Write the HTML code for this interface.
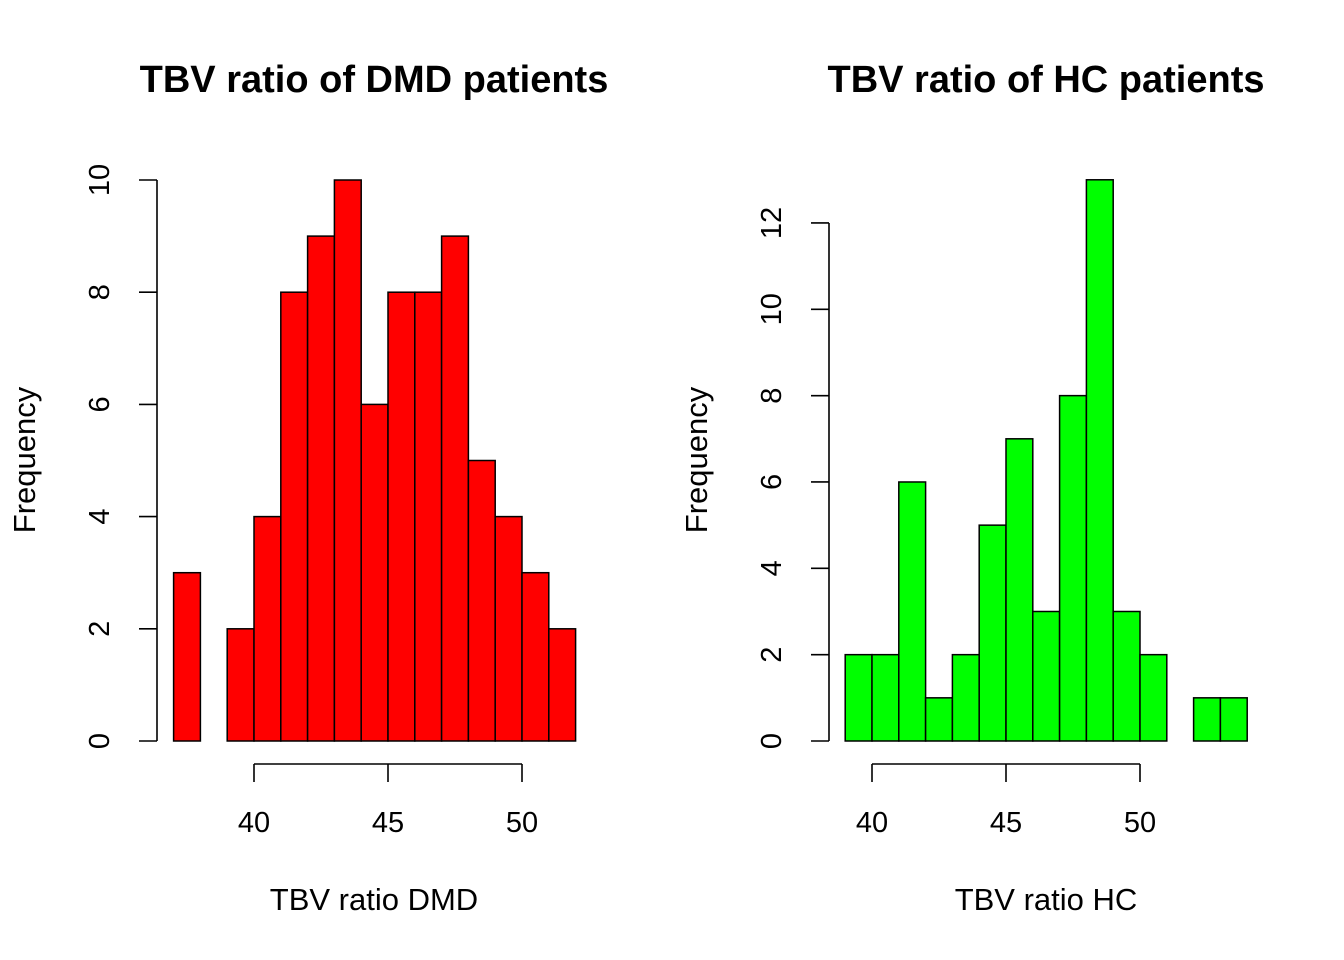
<!DOCTYPE html>
<html><head><meta charset="utf-8"><style>
body{margin:0;background:#fff}
svg{display:block;font-family:"Liberation Sans",sans-serif}
</style></head><body>
<svg id="c" width="1344" height="960"></svg>
<script>
const dmdBreakStart = 37;
const dmdCounts = [3,0,2,4,8,9,10,6,8,8,9,5,4,3,2];
const dmdYTicks = [0,2,4,6,8,10];
const dmdXTicks = [40,45,50];
const hcBreakStart = 39;
const hcCounts = [2,2,6,1,2,5,7,3,8,13,3,2,0,1,1];
const hcYTicks = [0,2,4,6,8,10,12];
const hcXTicks = [40,45,50];

const NS="http://www.w3.org/2000/svg";
const svg=document.getElementById('c');
function mk(tag,attrs,parent,text){const e=document.createElementNS(NS,tag);for(const k in attrs)e.setAttribute(k,attrs[k]);if(text!==undefined)e.textContent=text;(parent||svg).appendChild(e);return e;}

function panel(opt){
  const g=mk('g',{});
  
  
  const xs=v=>opt.x40+(v-40)*26.8;
  const ys=v=>741-v*opt.py;
  const t=mk('text',{x:opt.cx,y:92,'text-anchor':'middle','font-size':38,'font-weight':'bold'},g,opt.title);
  
  
  opt.counts.forEach((c,i)=>{
    if(c<=0)return;
    const x0=xs(opt.start+i),x1=xs(opt.start+i+1);
    const r=mk('rect',{x:x0,y:ys(c),width:x1-x0,height:ys(0)-ys(c),fill:opt.color,stroke:'#000','stroke-width':1.5},g);
    
    
  });
  const ya=mk('g',{},g);
  
  
  const yt=opt.yticks;
  mk('line',{x1:opt.ax,x2:opt.ax,y1:ys(yt[yt.length-1]),y2:ys(yt[0]),stroke:'#000','stroke-width':1.6},ya);
  yt.forEach(v=>{
    mk('line',{x1:opt.ax-18,x2:opt.ax,y1:ys(v),y2:ys(v),stroke:'#000','stroke-width':1.6},ya);
    const l=mk('text',{x:0,y:0,'text-anchor':'middle','font-size':29,transform:`translate(${opt.ax-48},${ys(v)}) rotate(-90)`},ya,String(v));
    
    
  });
  const xa=mk('g',{},g);
  
  
  const xt=opt.xticks;
  mk('line',{x1:xs(xt[0]),x2:xs(xt[xt.length-1]),y1:764,y2:764,stroke:'#000','stroke-width':1.6},xa);
  xt.forEach(v=>{
    mk('line',{x1:xs(v),x2:xs(v),y1:764,y2:782,stroke:'#000','stroke-width':1.6},xa);
    const l=mk('text',{x:xs(v),y:832,'text-anchor':'middle','font-size':29},xa,String(v));
    
    
  });
  const xl=mk('text',{x:opt.cx,y:910,'text-anchor':'middle','font-size':31},g,opt.xlabel);
  
  
  const yl=mk('text',{x:0,y:0,'text-anchor':'middle','font-size':31,transform:`translate(${opt.ax-122},460) rotate(-90)`},g,'Frequency');
  
  
}
panel({name:'dmd-histogram',title:'TBV ratio of DMD patients',xlabel:'TBV ratio DMD',cx:374,x40:254,ax:157,py:56.1,start:dmdBreakStart,counts:dmdCounts,yticks:dmdYTicks,xticks:dmdXTicks,color:'#ff0000'});
panel({name:'hc-histogram',title:'TBV ratio of HC patients',xlabel:'TBV ratio HC',cx:1046,x40:872,ax:829,py:43.17,start:hcBreakStart,counts:hcCounts,yticks:hcYTicks,xticks:hcXTicks,color:'#00ff00'});
</script>
</body></html>
